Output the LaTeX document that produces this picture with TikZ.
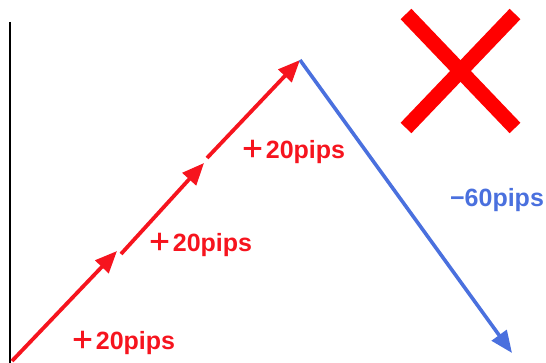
\documentclass[tikz,border=0pt]{standalone}
\usepackage{fontspec}
\setmainfont{Liberation Sans}
\newfontfamily\jpfont{Noto Sans CJK JP}
\usepackage{tikz}
\usetikzlibrary{arrows.meta,positioning}
\definecolor{upred}{RGB}{246,20,30}
\definecolor{downblue}{RGB}{74,112,222}

\begin{document}
\begin{tikzpicture}[
  x=1pt, y=1pt,
  lbl/.style={font=\fontsize{25}{28}\selectfont\bfseries, inner sep=0pt},
  up/.style={upred, line width=3.8pt, -{Triangle[length=22pt, width=18pt]}},
  down/.style={downblue, line width=3.6pt, -{Triangle[length=22pt, width=18pt]}}
]
\useasboundingbox (0,0) rectangle (546,363);
% axis
\coordinate (axtop) at (10,341);
\coordinate (axbot) at (10,0);
\draw[black, line width=2pt] (axtop) -- (axbot);
% legs of the trade
\coordinate (s0) at (12,2);
\coordinate (t1) at (117,112);
\coordinate (s1) at (121,109);
\coordinate (t2) at (204,200);
\coordinate (s2) at (207,205);
\coordinate (peak) at (300,303);
\coordinate (stop) at (512,10);
\draw[up] (s0) -- (t1);
\draw[up] (s1) -- (t2);
\draw[up] (s2) -- (peak);
\draw[down] (peak) -- (stop);
% labels
\node[lbl, upred] (g1) at (123,20) {{\jpfont ＋}20pips};
\node[lbl, upred] (g2) at (200,118) {{\jpfont ＋}20pips};
\node[lbl, upred] (g3) at (293,211) {{\jpfont ＋}20pips};
\node[lbl, downblue] (loss) at (497,163) {−60pips};
% cross
\coordinate (xa) at (406,349);
\coordinate (xb) at (515,235);
\coordinate (xc) at (515,349);
\coordinate (xd) at (406,235);
\draw[red, line width=15pt] (xa) -- (xb);
\draw[red, line width=15pt] (xc) -- (xd);
\end{tikzpicture}
\end{document}
